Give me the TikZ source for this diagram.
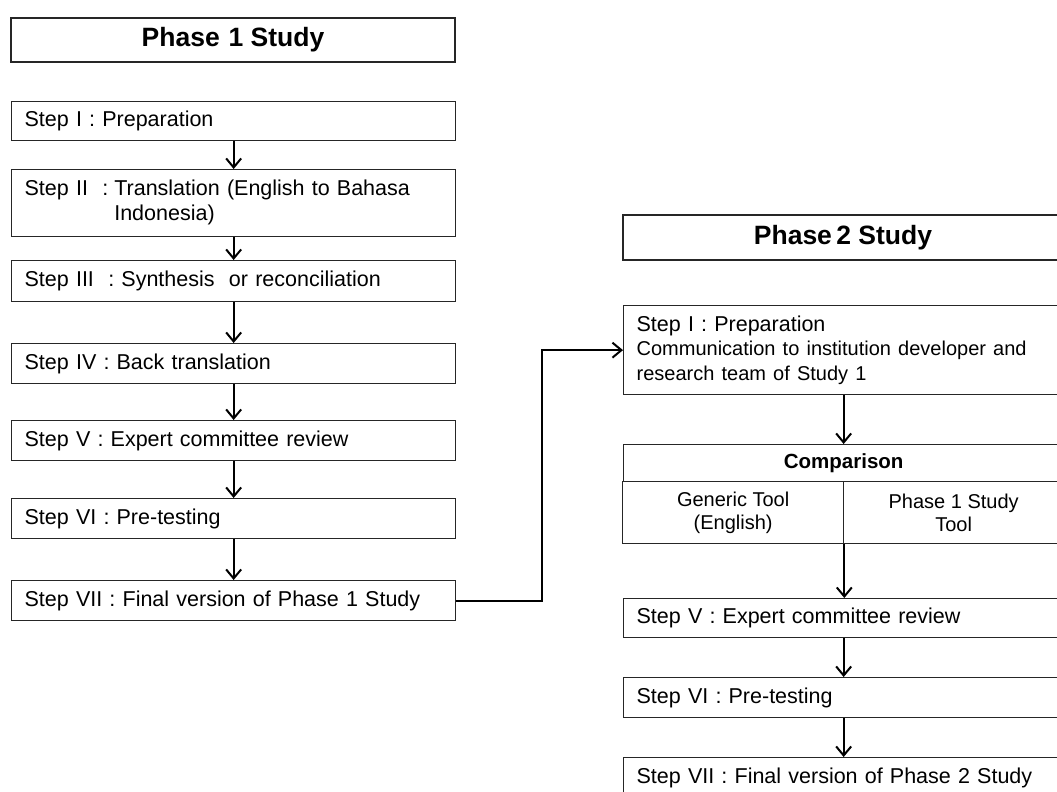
\documentclass[tikz,border=0pt]{standalone}
\usepackage{fontspec}
\setmainfont{Liberation Sans}
\usepackage{tikz}
\usetikzlibrary{
	positioning,    % posizionamento dei nodi
	arrows.meta     % punte delle frecce
}

\begin{document}
\begin{tikzpicture}[
	x=1pt, y=-1pt,
	font=\fontsize{21.5}{24.5}\selectfont,
	titolo/.style={draw=black!85, line width=1.3pt, inner sep=0pt,
		font=\fontsize{26.5}{28}\selectfont\bfseries},
	passo/.style={draw=black!85, line width=1.3pt, anchor=north west, align=left,
		inner xsep=13pt, inner ysep=0pt, minimum height=40pt},
	sinistra/.style={passo, text width=418pt},
	destra/.style={passo, text width=414pt},
	cella/.style={draw=black!85, line width=1.3pt, anchor=north west, align=center,
		inner sep=0pt, font=\fontsize{20}{23.5}\selectfont},
	freccia/.style={-{Straight Barb[length=9pt,width=15pt]}, line width=2pt}
	]
	
	\useasboundingbox (0,0) rectangle (1057,792);
	\clip (0,0) rectangle (1057,792);
	
	% --- Fase 1 ---
	\node[titolo, minimum width=444pt, minimum height=44pt] (fase1) at (233,40) {Phase\,\,1 Study};
	\node[sinistra, minimum height=39pt] (p1s1) at (11,101) {Step I : Preparation};
	\node[sinistra, minimum height=67pt] (p1s2) at (11,169) {%
		\begin{tabular}{@{}l@{\hspace{6pt}}l@{}}
			Step II\ \ : & Translation (English to Bahasa\\
			& Indonesia)
		\end{tabular}};
	\node[sinistra, minimum height=41pt] (p1s3) at (11,260) {Step III\ \ : Synthesis\ \ or reconciliation};
	\node[sinistra] (p1s4) at (11,343) {Step IV\ : Back translation};
	\node[sinistra] (p1s5) at (11,420) {Step V : Expert\ committee review};
	\node[sinistra] (p1s6) at (11,498) {Step VI\ : Pre-testing};
	\node[sinistra] (p1s7) at (11,580) {Step VII\ : Final version of Phase 1 Study};
	
	\draw[freccia] (p1s1) -- (p1s2);
	\draw[freccia] (p1s2) -- (p1s3);
	\draw[freccia] (p1s3) -- (p1s4);
	\draw[freccia] (p1s4) -- (p1s5);
	\draw[freccia] (p1s5) -- (p1s6);
	\draw[freccia] (p1s6) -- (p1s7);
	
	% --- Collegamento tra le fasi ---
	\coordinate (gomito) at ([xshift=86pt]p1s7.east);
	
	% --- Fase 2 ---
	\node[titolo, minimum width=440pt, minimum height=45pt] (fase2) at (843,237.5) {Phase\,2 Study};
	\node[destra, minimum height=89pt] (p2s1) at (623,305) {Step I : Preparation\\
		{\fontsize{20}{24.5}\selectfont Communication to institution developer\ and}\\
		{\fontsize{20}{24.5}\selectfont research team of Study 1}};
	\node[cella, minimum width=440pt, minimum height=37pt,
		font=\fontsize{20.5}{24}\selectfont\bfseries] (confronto) at (623,444) {Comparison};
	\node[cella, minimum width=221pt, minimum height=62pt] (generico) at (622,481) {Generic Tool\\(English)};
	\node[cella, minimum width=220pt, minimum height=62pt] (strumento1) at (843,481) {Phase 1 Study\\Tool};
	\node[destra, minimum height=39pt] (p2s5) at (623,598) {Step V : Expert\ committee review};
	\node[destra] (p2s6) at (623,677) {Step VI\ : Pre-testing};
	\node[destra] (p2s7) at (623,757) {Step VII\ : Final version of Phase 2 Study};
	
	\draw[freccia] (p1s7.east) -- (gomito) |- (p2s1.west);
	\draw[freccia] (p2s1.south) -- (confronto.north);
	\draw[freccia] (generico.south east) -- (generico.south east |- p2s5.north);
	\draw[freccia] (p2s5) -- (p2s6);
	\draw[freccia] (p2s6) -- (p2s7);
	
\end{tikzpicture}
\end{document}
